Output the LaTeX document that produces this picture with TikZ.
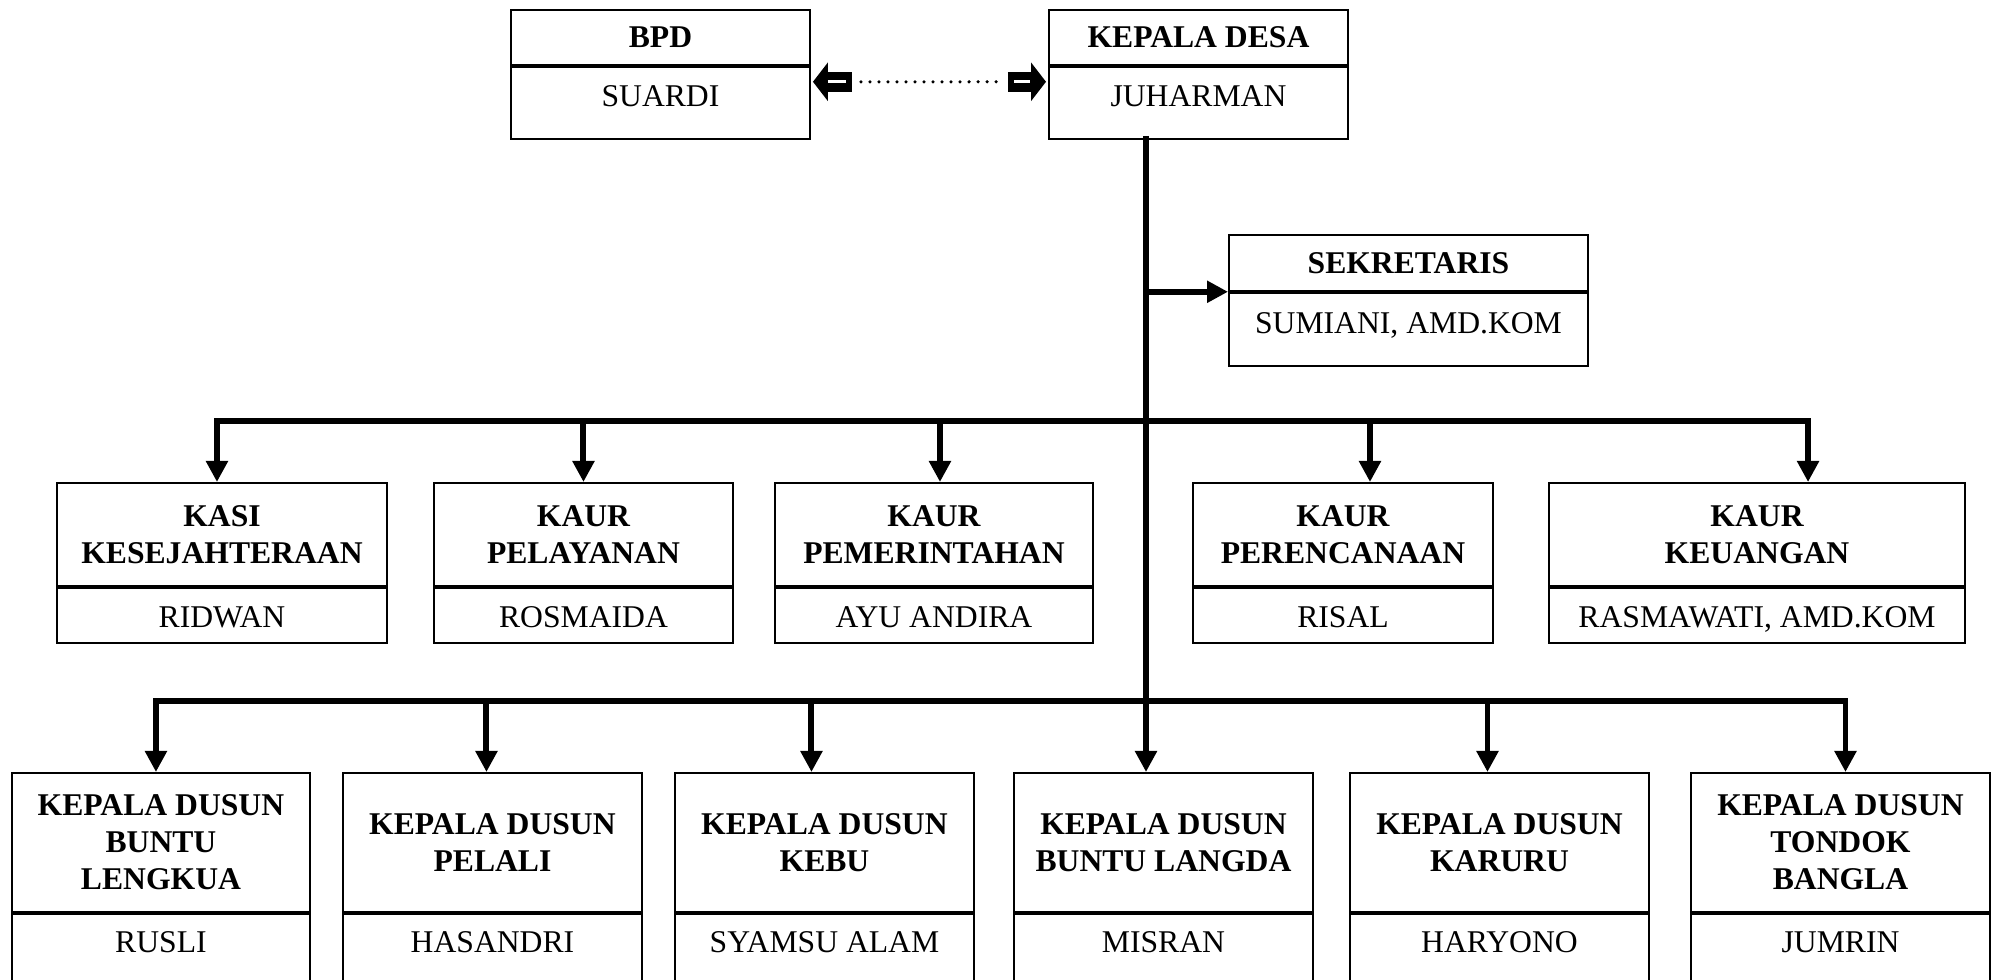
\documentclass[tikz,border=0pt]{standalone}
\usepackage{fontspec}
\setmainfont{Liberation Serif}
\usetikzlibrary{arrows.meta}

\tikzset{
  head/.style={draw, line width=0.5pt, anchor=north west, align=center, inner sep=0pt, font=\fontsize{9}{10.5}\selectfont\bfseries},
  who/.style={draw, line width=0.5pt, anchor=north, inner sep=0pt, font=\fontsize{9}{10.5}\selectfont},
  bar/.style={line width=1.7pt, line cap=rect},
  drop/.style={line width=1.7pt, -{Triangle[length=0.21cm,width=0.21cm]}},
  fat/.style={line width=0.2cm, -{Triangle[length=0.15cm,width=0.38cm]}}
}

\begin{document}
\begin{tikzpicture}[x=0.01cm, y=-0.01cm]
\useasboundingbox (0,0) rectangle (1995,980);
\clip (0,0) rectangle (1995,980);
% top
\node[head, minimum width=2.99cm, minimum height=0.55cm] (bpd) at (510,9) {BPD};
\node[who, minimum width=2.99cm, text height=0.40cm, text depth=0.32cm] (bpdn) at (bpd.south) {SUARDI};
\node[head, minimum width=2.99cm, minimum height=0.55cm] (kades) at (1048,9) {KEPALA DESA};
\node[who, minimum width=2.99cm, text height=0.40cm, text depth=0.32cm] (kadesn) at (kades.south) {JUHARMAN};
\node[head, minimum width=3.59cm, minimum height=0.56cm] (sek) at (1228,234) {SEKRETARIS};
\node[who, minimum width=3.59cm, text height=0.41cm, text depth=0.32cm] (sekn) at (sek.south) {SUMIANI, AMD.KOM};
% kasi / kaur
\node[head, minimum width=3.30cm, minimum height=1.03cm] (kasi) at (56,482) {KASI\\KESEJAHTERAAN};
\node[who, minimum width=3.30cm, text height=0.40cm, text depth=0.15cm] (kasin) at (kasi.south) {RIDWAN};
\node[head, minimum width=2.99cm, minimum height=1.03cm] (pel) at (433,482) {KAUR\\PELAYANAN};
\node[who, minimum width=2.99cm, text height=0.40cm, text depth=0.15cm] (peln) at (pel.south) {ROSMAIDA};
\node[head, minimum width=3.18cm, minimum height=1.03cm] (pem) at (774,482) {KAUR\\PEMERINTAHAN};
\node[who, minimum width=3.18cm, text height=0.40cm, text depth=0.15cm] (pemn) at (pem.south) {AYU ANDIRA};
\node[head, minimum width=3.00cm, minimum height=1.03cm] (ren) at (1192,482) {KAUR\\PERENCANAAN};
\node[who, minimum width=3.00cm, text height=0.40cm, text depth=0.15cm] (renn) at (ren.south) {RISAL};
\node[head, minimum width=4.16cm, minimum height=1.03cm] (keu) at (1548,482) {KAUR\\KEUANGAN};
\node[who, minimum width=4.16cm, text height=0.40cm, text depth=0.15cm] (keun) at (keu.south) {RASMAWATI, AMD.KOM};
% dusun
\node[head, minimum width=2.98cm, minimum height=1.39cm] (d1) at (11,772) {KEPALA DUSUN\\BUNTU\\LENGKUA};
\node[who, minimum width=2.98cm, text height=0.39cm, text depth=0.70cm] (d1n) at (d1.south) {RUSLI};
\node[head, minimum width=2.99cm, minimum height=1.39cm] (d2) at (342,772) {KEPALA DUSUN\\PELALI};
\node[who, minimum width=2.99cm, text height=0.39cm, text depth=0.70cm] (d2n) at (d2.south) {HASANDRI};
\node[head, minimum width=2.99cm, minimum height=1.39cm] (d3) at (674,772) {KEPALA DUSUN\\KEBU};
\node[who, minimum width=2.99cm, text height=0.39cm, text depth=0.70cm] (d3n) at (d3.south) {SYAMSU ALAM};
\node[head, minimum width=2.99cm, minimum height=1.39cm] (d4) at (1013,772) {KEPALA DUSUN\\BUNTU LANGDA};
\node[who, minimum width=2.99cm, text height=0.39cm, text depth=0.70cm] (d4n) at (d4.south) {MISRAN};
\node[head, minimum width=2.99cm, minimum height=1.39cm] (d5) at (1349,772) {KEPALA DUSUN\\KARURU};
\node[who, minimum width=2.99cm, text height=0.39cm, text depth=0.70cm] (d5n) at (d5.south) {HARYONO};
\node[head, minimum width=2.99cm, minimum height=1.39cm] (d6) at (1690,772) {KEPALA DUSUN\\TONDOK\\BANGLA};
\node[who, minimum width=2.99cm, text height=0.39cm, text depth=0.70cm] (d6n) at (d6.south) {JUMRIN};
% lines
\coordinate (top) at (1146,136); \coordinate (bus1) at (1146,421); \coordinate (bus2) at (1146,701);
\draw[drop] (top) -- (top |- d4.north);
\draw[drop] (top |- sekn.north west) -- (sekn.north west);
\draw[bar] ([xshift=-0.05cm]kasi.north |- bus1) -- ([xshift=0.51cm]keu.north |- bus1);
\draw[drop] ([xshift=-0.05cm]kasi.north |- bus1) -- ([xshift=-0.05cm]kasi.north);\draw[drop] (pel.north |- bus1) -- (pel.north);
\draw[drop] ([xshift=0.06cm]pem.north |- bus1) -- ([xshift=0.06cm]pem.north);\draw[drop] ([xshift=0.27cm]ren.north |- bus1) -- ([xshift=0.27cm]ren.north);
\draw[drop] ([xshift=0.51cm]keu.north |- bus1) -- ([xshift=0.51cm]keu.north);
\draw[bar] ([xshift=-0.05cm]d1.north |- bus2) -- ([xshift=0.05cm]d6.north |- bus2);
\draw[drop] ([xshift=-0.05cm]d1.north |- bus2) -- ([xshift=-0.05cm]d1.north);\draw[drop] ([xshift=-0.06cm]d2.north |- bus2) -- ([xshift=-0.06cm]d2.north);
\draw[drop] ([xshift=-0.13cm]d3.north |- bus2) -- ([xshift=-0.13cm]d3.north);\draw[drop] ([xshift=-0.12cm]d5.north |- bus2) -- ([xshift=-0.12cm]d5.north);
\draw[drop] ([xshift=0.05cm]d6.north |- bus2) -- ([xshift=0.05cm]d6.north);
% bpd - kepala desa
\draw[line width=0.035cm, line cap=round, dash pattern=on 0pt off 0.09cm] ([xshift=0.50cm,yshift=-0.16cm]bpdn.north east) -- ([xshift=-0.46cm,yshift=-0.16cm]kadesn.north west);
\draw[fat] ([xshift=0.41cm,yshift=-0.16cm]bpdn.north east) -- ([xshift=0.02cm,yshift=-0.16cm]bpdn.north east);
\draw[white, line width=0.03cm] ([xshift=0.17cm,yshift=-0.16cm]bpdn.north east) -- ([xshift=0.35cm,yshift=-0.16cm]bpdn.north east);
\draw[fat] ([xshift=-0.40cm,yshift=-0.16cm]kadesn.north west) -- ([xshift=-0.02cm,yshift=-0.16cm]kadesn.north west);
\draw[white, line width=0.03cm] ([xshift=-0.34cm,yshift=-0.16cm]kadesn.north west) -- ([xshift=-0.18cm,yshift=-0.16cm]kadesn.north west);
\end{tikzpicture}
\end{document}
